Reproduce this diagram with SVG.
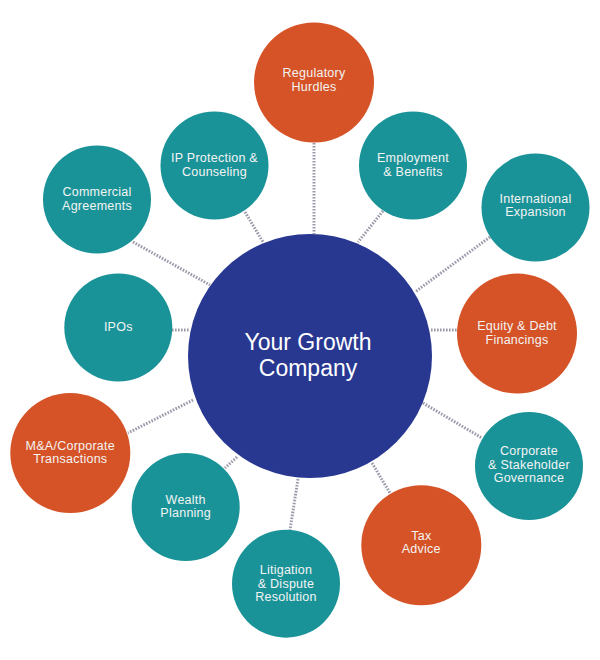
<svg xmlns="http://www.w3.org/2000/svg" width="600" height="660" viewBox="0 0 600 660">
<style>
.teal{fill:#1a9398}
.orange{fill:#d55326}
.hub{fill:#283891}
.lbl{font-family:"Liberation Sans",Arial,sans-serif;font-size:12.5px;letter-spacing:0.25px;fill:#f4f4f4;text-anchor:middle}
.hubt{font-family:"Liberation Sans",Arial,sans-serif;font-size:23px;fill:#ffffff;text-anchor:middle}
.con{stroke:#9a9aaa;stroke-width:3;stroke-dasharray:1.6 1.4;fill:none}
</style>
<rect width="600" height="660" fill="#ffffff"/>
<g id="connectors">
<line class="con" x1="314" y1="143" x2="314" y2="234"/>
<line class="con" x1="383" y1="211" x2="358" y2="242"/>
<line class="con" x1="245" y1="212" x2="263" y2="242"/>
<line class="con" x1="490" y1="237" x2="415" y2="292"/>
<line class="con" x1="431" y1="330" x2="457" y2="330"/>
<line class="con" x1="423" y1="403" x2="482" y2="438"/>
<line class="con" x1="372" y1="463" x2="390" y2="493"/>
<line class="con" x1="298" y1="479" x2="290" y2="530"/>
<line class="con" x1="237" y1="457" x2="225" y2="468"/>
<line class="con" x1="193" y1="400" x2="128" y2="433"/>
<line class="con" x1="172" y1="330" x2="189" y2="330"/>
<line class="con" x1="133" y1="242" x2="210" y2="285"/>
</g>
<g id="hub">
<circle class="hub" cx="310" cy="356" r="122"/>
<text class="hubt" x="308" y="350">Your Growth</text>
<text class="hubt" x="308" y="376">Company</text>
</g>
<g id="regulatory">
<circle class="orange" cx="314" cy="82.5" r="60"/>
<text class="lbl" x="314" y="77">Regulatory</text>
<text class="lbl" x="314" y="91">Hurdles</text>
</g>
<g id="employment">
<circle class="teal" cx="413" cy="165.5" r="54"/>
<text class="lbl" x="413" y="162">Employment</text>
<text class="lbl" x="413" y="175.5">&amp; Benefits</text>
</g>
<g id="international">
<circle class="teal" cx="535.5" cy="207.5" r="54"/>
<text class="lbl" x="535.5" y="202.5">International</text>
<text class="lbl" x="535.5" y="216">Expansion</text>
</g>
<g id="equity">
<circle class="orange" cx="517" cy="333.5" r="60"/>
<text class="lbl" x="517" y="330">Equity &amp; Debt</text>
<text class="lbl" x="517" y="343.5">Financings</text>
</g>
<g id="corporate">
<circle class="teal" cx="529" cy="466" r="54"/>
<text class="lbl" x="529" y="455">Corporate</text>
<text class="lbl" x="529" y="468.5">&amp; Stakeholder</text>
<text class="lbl" x="529" y="482">Governance</text>
</g>
<g id="tax">
<circle class="orange" cx="421.3" cy="545.3" r="60"/>
<text class="lbl" x="421.3" y="539.5">Tax</text>
<text class="lbl" x="421.3" y="553">Advice</text>
</g>
<g id="litigation">
<circle class="teal" cx="286" cy="583.7" r="54"/>
<text class="lbl" x="286" y="574">Litigation</text>
<text class="lbl" x="286" y="587.5">&amp; Dispute</text>
<text class="lbl" x="286" y="601">Resolution</text>
</g>
<g id="wealth">
<circle class="teal" cx="185.7" cy="507" r="54"/>
<text class="lbl" x="185.7" y="503.5">Wealth</text>
<text class="lbl" x="185.7" y="517">Planning</text>
</g>
<g id="manda">
<circle class="orange" cx="70.3" cy="453" r="60"/>
<text class="lbl" x="70.3" y="449.5">M&amp;A/Corporate</text>
<text class="lbl" x="70.3" y="463">Transactions</text>
</g>
<g id="ipos">
<circle class="teal" cx="118.3" cy="327.5" r="54"/>
<text class="lbl" x="118.3" y="331">IPOs</text>
</g>
<g id="commercial">
<circle class="teal" cx="97" cy="199.5" r="54"/>
<text class="lbl" x="97" y="196">Commercial</text>
<text class="lbl" x="97" y="209.5">Agreements</text>
</g>
<g id="ipprotection">
<circle class="teal" cx="214.5" cy="165.5" r="54"/>
<text class="lbl" x="214.5" y="162">IP Protection &amp;</text>
<text class="lbl" x="214.5" y="175.5">Counseling</text>
</g>
</svg>
